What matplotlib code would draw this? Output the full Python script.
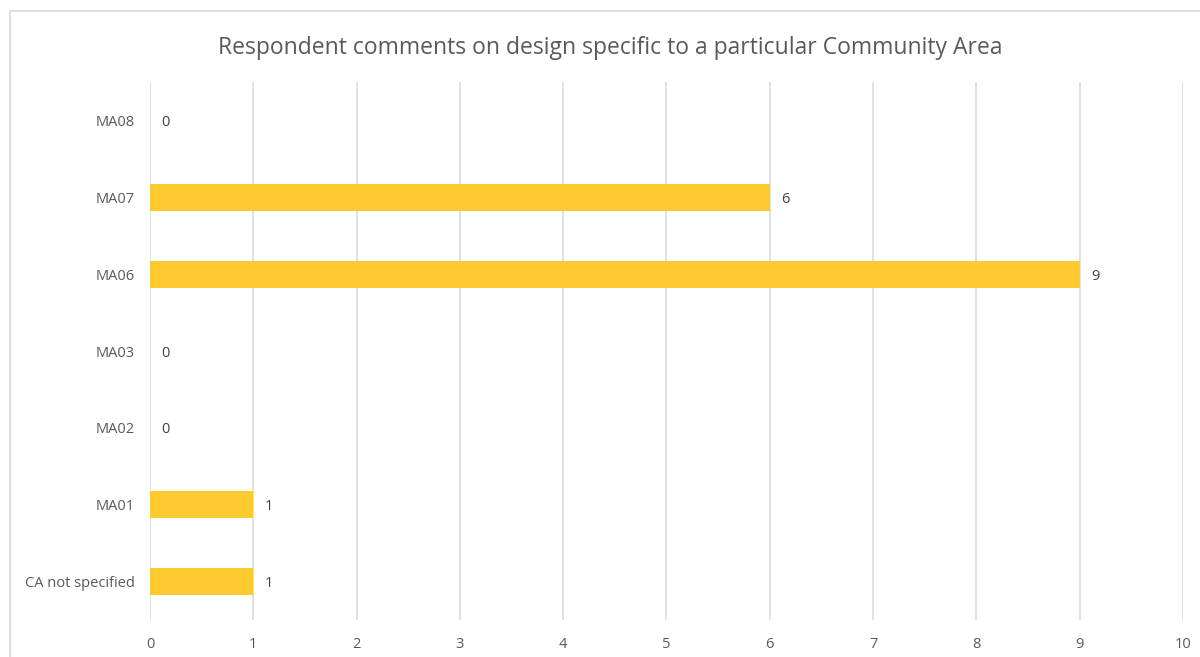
import matplotlib.pyplot as plt
from matplotlib.patches import Rectangle

# Comment counts per Community Area
areas = ['CA not specified', 'MA01', 'MA02', 'MA03', 'MA06', 'MA07', 'MA08']
counts = [1, 1, 0, 0, 9, 6, 0]
x_ticks = list(range(0, 11))

bar_color = '#FDCB30'
grid_color = '#D9D9D9'
text_color = '#595959'

plt.rcParams['font.family'] = ['Open Sans', 'DejaVu Sans']

fig = plt.figure(figsize=(12, 6.57), dpi=100)
ax = fig.add_axes([0.125, 0.0563, 0.8608, 0.8189])

# chart frame
fig.patches.append(Rectangle((10 / 1200, -0.1), 1.2, 1 - 11 / 657 + 0.1,
                             transform=fig.transFigure, fill=False,
                             edgecolor=grid_color, linewidth=1.2))

ypos = range(len(areas))
ax.barh(ypos, counts, height=0.35, color=bar_color, zorder=3)

for y, v in zip(ypos, counts):
    ax.text(v + 0.11, y, str(v), va='center_baseline', ha='left', fontsize=10.5, color='#404040')

ax.set_xlim(0, 10)
ax.set_ylim(-0.5, len(areas) - 0.5)
ax.set_xticks(x_ticks)
ax.set_yticks(list(ypos))
ax.set_yticklabels(areas, va='center_baseline')
ax.tick_params(axis='both', length=0, labelsize=10.5, labelcolor=text_color)
ax.tick_params(axis='y', pad=11)
ax.tick_params(axis='x', pad=12)
ax.grid(axis='x', color=grid_color, linewidth=1.1, zorder=0)
for s in ax.spines.values():
    s.set_visible(False)

fig.text(0.5085, 1 - 45 / 657, 'Respondent comments on design specific to a particular Community Area',
         ha='center', va='center_baseline', fontsize=16.5, color=text_color)

fig.savefig('out.png', dpi=100)
